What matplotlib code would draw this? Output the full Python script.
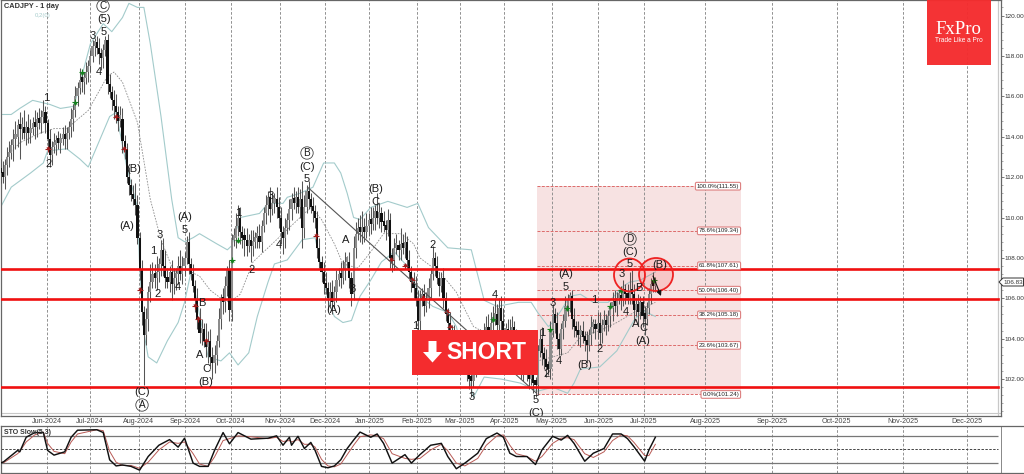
import matplotlib
matplotlib.use("Agg")
import matplotlib.pyplot as plt
from matplotlib.patches import Rectangle, Ellipse, Polygon
from matplotlib.transforms import Affine2D

# daily closes, one bar per trading day
closes = [
    112.2,112.0,112.6,113.0,113.2,113.6,113.9,114.0,114.6,114.4,
    114.5,114.2,114.5,114.2,114.4,114.7,114.5,114.9,114.7,115.0,
    115.2,114.7,113.9,113.1,113.5,113.6,113.8,113.7,113.9,114.0,
    113.9,114.2,114.5,114.9,115.3,116.0,116.4,116.8,116.7,116.9,
    117.2,117.5,118.0,118.5,118.7,118.4,118.1,117.9,118.3,118.8,
    116.6,116.2,115.8,115.5,115.2,114.8,114.9,113.8,113.4,112.0,
    111.6,111.1,110.9,110.6,109.0,107.4,105.3,104.2,105.0,106.3,
    106.8,107.2,107.0,107.3,107.7,108.4,107.6,107.0,106.8,107.3,
    106.7,107.0,107.2,107.6,107.2,107.6,108.0,108.8,107.7,107.2,
    106.6,105.9,105.0,104.3,104.5,103.9,103.6,103.9,103.1,102.8,
    103.2,103.9,105.0,105.9,105.8,106.6,107.4,105.4,108.9,109.0,
    109.6,110.0,109.3,109.0,108.9,108.6,108.9,108.6,108.8,109.0,
    109.1,108.8,109.6,110.2,110.6,111.0,110.4,110.7,110.9,110.5,
    110.0,109.3,109.0,109.5,109.9,110.4,110.9,110.7,111.0,110.5,
    110.9,109.5,110.5,111.3,110.9,110.5,110.3,110.0,108.5,107.8,
    107.3,106.7,106.5,106.0,106.3,105.8,106.3,106.9,107.2,107.0,
    107.4,107.8,107.8,107.0,106.2,108.5,109.2,109.5,109.3,109.5,
    109.3,109.6,109.9,109.7,110.0,110.3,110.0,110.2,109.8,109.6,
    109.4,109.9,108.0,107.9,108.5,108.6,108.4,108.7,108.5,108.8,
    107.9,107.3,106.8,106.5,105.9,104.9,105.9,106.2,105.6,106.0,
    106.5,107.2,108.0,107.6,107.0,106.6,107.0,106.0,105.2,104.8,
    104.4,104.2,104.0,103.7,103.5,103.2,103.0,102.7,102.4,102.0,
    101.9,102.6,103.0,103.4,103.7,103.6,104.2,104.6,104.3,104.8,
    105.0,105.2,104.7,105.5,104.9,104.3,104.5,104.2,104.0,104.6,
    104.0,103.5,102.9,102.5,102.8,103.0,102.4,102.0,102.3,101.8,
    101.7,103.4,104.0,103.3,103.0,102.6,102.5,104.4,105.2,104.8,
    104.0,103.5,104.5,104.9,105.6,105.9,106.1,105.0,104.6,104.4,
    104.2,104.4,104.1,103.9,103.7,104.2,104.6,104.7,104.5,104.8,
    104.3,104.7,104.9,104.7,105.1,105.5,105.8,105.6,106.0,106.1,
    105.9,106.4,106.2,106.0,106.3,106.2,105.4,105.7,105.3,105.8,
    105.1,105.0,105.5,106.2,106.7,106.6,106.83,
]
first_open = 112.4

# how far the high / low stick out of each body
wick_up = [
    .5,.6,.3,.5,.6,.3,.5,.8,.3,.6,
    .5,.8,.3,.6,.5,.3,.6,.3,.5,.3,
    .6,.3,.2,.5,.3,.6,.3,.5,.3,.5,
    .6,.3,.3,.5,.3,.5,.3,.6,.5,.3,
    .5,.3,.3,.3,.2,.3,.5,.3,.3,.2,
    .3,.5,.3,.5,.6,.3,.6,.5,.3,.3,
    .5,.3,.5,.8,.5,.3,.5,.3,.5,.3,
    .9,.6,.5,.8,.3,.5,.6,.8,.5,.3,
    .6,.5,.3,.5,.8,.5,.3,.3,.5,.3,
    .5,.3,.6,.5,.5,.3,.9,.5,.6,.5,
    .5,.3,.5,.3,.6,.5,.2,.5,.3,.5,
    .6,.6,.5,.3,.5,.6,.3,.5,.6,.3,
    .5,.6,.3,.3,.5,.3,.5,.5,.3,.6,
    .5,.5,.3,.5,.3,.5,.3,.6,.3,.5,
    .5,.9,.6,.3,.5,.3,.5,.3,.3,.5,
    .3,.5,.6,.3,.5,.6,.3,.5,.3,.6,
    .5,.5,.3,.5,.3,.6,.6,.5,.6,.8,
    .5,.6,.3,.6,.5,.3,.9,.5,.3,.5,
    .3,.5,.3,.5,.5,.6,.3,.8,.5,.5,
    .3,.5,.3,.5,.6,.5,.5,.3,.5,.3,
    .5,.3,.6,.3,.5,.3,.3,.5,.3,.3,
    .5,.3,.5,.3,.5,.3,.5,.6,.3,.5,
    .5,.5,.6,.6,.8,.5,.6,.5,.6,.5,
    .6,.8,.5,.5,.6,.6,.3,.5,.8,.5,
    .3,.5,.6,.3,.5,.3,.5,.6,.3,.5,
    .3,.3,.5,.6,.3,.5,.3,.5,.5,.3,
    .5,.3,.3,.3,.5,.3,.2,.3,.5,.3,
    .5,.3,.5,.3,.5,.3,.5,.3,.3,.5,
    .5,.3,.5,.3,.3,.3,.5,.6,.3,.3,
    .5,.5,.3,.5,1.0,1.1,.5,.3,.5,.3,
    .3,.5,.3,.3,.3,.6,.2,
]
wick_dn = [
    .5,.3,.6,.5,.5,.3,.8,.5,.5,1.5,
    .5,.3,.6,.5,.5,.3,.6,.5,.3,.5,
    .3,.5,.5,.6,.5,.3,.5,.3,.5,.3,
    .5,.5,.3,.5,.6,.3,.5,.3,.5,.6,
    .3,.5,.3,.3,.5,.3,.5,.6,.5,.3,
    .5,.3,.5,.6,.5,.5,.3,.6,.5,.3,
    .5,.3,.3,.5,.3,.5,.6,2.5,.5,.6,
    .5,.3,.5,.6,.5,.6,.5,.5,.3,.5,
    .8,.5,.6,.5,.3,.5,.5,.3,.5,.3,
    .3,.6,.5,.5,.6,.3,.5,.8,.6,.8,
    .5,.5,.3,.5,.6,.5,.5,.5,.5,.3,
    .5,.5,.6,.5,.8,.5,.3,.8,.5,.3,
    .5,.3,.5,.3,.5,.5,.6,.3,.5,.5,
    .5,.6,.8,.5,.3,.5,.5,.3,.5,.3,
    .5,1.0,.5,.3,.5,.3,.5,.5,.5,.3,
    .5,.5,.3,.6,.5,.6,.3,.5,.3,.5,
    .3,.5,.3,.5,.6,.3,.5,.3,.5,.6,
    .5,.3,.5,.5,.3,.6,.3,.5,.5,.3,
    .5,.3,.5,.6,.5,.3,.5,.5,.3,.5,
    .5,.3,.5,.5,.3,.9,.5,.3,.5,.3,
    .5,.5,.3,.5,.3,.5,.3,.5,.3,.5,
    .3,.5,.3,.5,.6,.3,.5,.3,.5,.5,
    .8,.3,.5,.5,.3,.5,.6,.5,.3,.5,
    .5,.3,.5,.3,.5,.6,.5,.3,.5,.3,
    .5,.5,.3,.5,.6,.3,.5,.5,.3,.5,
    .6,.5,.3,.6,.5,.5,.3,.5,.3,.5,
    .5,.3,.3,.5,.3,.5,.6,.5,.5,.3,
    .5,.6,.3,.5,.9,.3,.5,.3,.5,.5,
    .6,.5,.3,.5,.3,.5,.6,.3,.5,.3,
    .5,.3,.5,.3,.3,.5,.5,.3,.6,.3,
    .5,.8,.3,.3,.5,.3,.3,
]

# bollinger bands: bar number and price
upper_bar = [0,5,9,15,19,23,28,34,35,42,48,52,57,60,64,67,70,75,80,83,86,90,93,101,106,108,112,121,125,132,134,140,146,151,156,159,162,165,168,173,181,190,195,200,209,220,226,232,242,248,251,256,258,262,266,271,277,284,291,294,299,306]
upper_val = [115.1,115.1,115.4,115.8,115.7,115.6,115.4,115.5,115.8,118.6,119.6,119.2,119.9,120.6,120.4,120.4,118.6,115.0,110.9,109.0,108.8,109.0,109.2,108.7,108.4,108.6,110.0,110.2,110.7,110.7,111.0,111.2,111.5,112.7,112.7,112.2,111.2,110.0,109.9,110.5,110.8,110.5,110.7,109.5,108.5,108.4,105.9,105.6,105.8,105.8,105.3,104.6,104.8,105.4,106.1,106.2,105.8,105.8,106.6,106.8,106.9,107.3]
lower_bar = [0,5,14,20,22,31,37,41,45,51,54,59,64,65,67,69,73,78,83,86,89,97,103,107,111,116,120,125,128,134,141,147,150,153,156,160,164,168,173,178,184,190,196,202,209,213,221,226,234,243,251,258,265,268,271,280,288,296,300,306]
lower_val = [110.5,111.5,112.2,112.7,113.3,113.4,112.9,112.5,113.5,115.0,115.2,112.5,110.5,107.6,104.3,103.1,102.8,103.9,104.8,105.8,107.3,103.1,102.9,103.3,102.7,103.3,105.1,106.8,107.7,107.9,108.9,109.0,107.5,105.9,105.1,104.8,104.9,106.1,106.9,107.8,108.3,107.6,106.1,105.6,105.3,104.6,101.1,102.1,102.0,101.8,101.4,101.6,101.3,101.8,102.5,102.6,103.4,104.9,105.4,105.1]
mid_bar = [3,9,19,25,31,41,50,53,57,64,70,75,81,87,93,98,103,107,112,118,126,134,145,150,156,160,167,173,179,187,193,196,206,213,221,251,258,265,271,280,288,296,306]
mid_val = [113.0,113.7,114.2,114.4,114.4,115.3,117.0,117.2,116.7,114.7,110.9,108.9,107.3,107.4,107.1,106.4,106.0,105.8,106.2,107.8,108.6,109.4,110.5,109.9,108.7,107.7,107.5,108.3,109.2,109.2,108.7,108.0,107.2,106.3,104.6,102.9,103.1,103.3,104.1,104.4,104.8,105.3,105.8]

# stochastic panel
sto_bar = [0,1.5,8,9,12,16,20,22,25,30,33,36,45,48,51,54,57,61,65,69,74,79,83,86,90,93,97,100,104,107,111,117,125,129,132,135,136,139,142,145,147,150,153,156,159,
           162,165,168,173,176,179,183,189,192,196,201,206,209,213,217,223,227,232,235,238,241,246,250,253,258,262,265,268,273,277,282,286,290,293,296,301,303,306]
sto_main = [20,23,47,44,75,85,85,47,37,44,75,90,91,85,27,14,16,13,5,34,58,70,54,73,20,13,13,47,85,61,85,71,73,78,58,75,58,77,51,64,47,13,10,14,27,
            51,69,86,75,82,62,20,38,20,38,58,62,34,8,20,41,72,84,75,41,34,34,17,48,77,69,79,62,24,41,51,82,82,72,55,24,48,75]
sto_signal = [22,21,40,45,65,80,86,62,45,40,65,82,91,89,45,22,15,15,9,22,48,65,62,65,40,18,13,33,68,72,78,76,72,75,66,68,65,70,60,60,54,28,14,12,18,
              38,58,76,80,78,72,40,30,28,30,48,60,46,20,14,30,58,78,80,58,40,34,24,34,62,73,74,70,40,32,44,68,80,78,64,36,36,60]

month_labels = ["Jun-2024","Jul-2024","Aug-2024","Sep-2024","Oct-2024","Nov-2024","Dec-2024","Jan-2025","Feb-2025","Mar-2025",
                "Apr-2025","May-2025","Jun-2025","Jul-2025","Aug-2025","Sep-2025","Oct-2025","Nov-2025","Dec-2025"]
month_bar = [21.5,41.6,64.7,86.4,107.5,130.4,151.4,172.4,194.4,214.5,235.5,257.5,279.4,300.5,329.4,360.7,390.7,421.5,451.4]

price_ticks = [102,104,106,108,110,112,114,116,118,120]
support_levels = [107.43,105.98,101.62]
last_price = 106.83

fib_pct = ["100.0%","78.6%","61.8%","50.0%","38.2%","23.6%","0.0%"]
fib_price = [111.55,109.34,107.61,106.40,105.18,103.67,101.24]
fib_start_bar = 250.5
fib_end_bar = 346

buy_bar = [35,38,108,111,230,257,264.5,285,290,305.5]
buy_price = [115.7,117.2,107.9,108.9,105.0,104.5,105.5,105.6,106.4,106.9]
sell_bar = [22,54,57.5,65,91,92.5,96,147.5,182.5,189,192.5,197.5,208.5,210]
sell_price = [113.4,115.0,113.4,106.4,105.6,105.0,103.9,109.1,107.9,107.6,106.9,106.0,105.3,104.6]

trend_bar = [143.5,250.5]
trend_price = [111.5,101.3]

# wave labels: text, x and y in image pixels
wave_labels = [
    ("(5)",104,19),("5",104,32),("3",93,36),("4",99,72),("1",46,98),("2",49,164),("(B)",134,169),
    ("(C)",307,167),("5",307,179),("3",271,196),("(A)",127,226),("(A)",185,217),("5",185,230),
    ("3",160,235),("1",153,251),("2",158,294),("4",178,287),("B",202,303),("A",200,355),("C",206,369),
    ("(B)",206,382),("(C)",142,392),("1",238,213),("2",252,270),("4",279,245),("(A)",334,310),
    ("A",346,240),("B",352,289),("(B)",376,189),("C",375,202),("2",433,245),("1",415,326),("4",495,295),
    ("3",472,397),("5",536,400),("(C)",536,413),("1",542,333),("2",547,374),("3",553,303),("(A)",566,274),
    ("5",566,287),("4",559,361),("(B)",585,365),("2",600,349),("1",594,300),("3",622,274),("(C)",630,252),
    ("5",630,264),("B",639,288),("4",626,312),("A",636,324),("C",643,328),("(A)",643,341),("(B)",660,265),
]
circled_labels = [("C",103,6),("B",307,153),("A",142,405),("D",630,239)]

W, H = 1024, 474
PX_PER_BAR = 2.14
INK = "#1c1c1c"
RED = "#f42c2e"

plt.rcParams["font.family"] = ["Liberation Sans", "DejaVu Sans"]
fig = plt.figure(figsize=(W / 100, H / 100), dpi=100, facecolor="white")

main_bottom = 415.5
ax = fig.add_axes([0.0005, (H - main_bottom) / H, 1000 / W, main_bottom / H])
sto = fig.add_axes([0.0005, 1.5 / H, 1, (473 - 425.5 - 0.5) / H])

# image pixels, y going down
px = Affine2D().scale(1, -1).translate(0, H)
line_end = 997 / 1000

for a in (ax, sto):
    for m in month_bar:
        a.axvline(m, color="#8a8a8a", lw=0.65, ls=(0, (3, 2)), zorder=1)
    for s in a.spines.values():
        s.set_color("#666666")
        s.set_linewidth(0.9)
ax.axvline(997 / PX_PER_BAR, color="#c8c8c8", lw=0.9, zorder=1)
ax.plot([0, 1000 / PX_PER_BAR], [100.3, 100.3], color="#c8c8c8", lw=0.8, zorder=1)

# fib box
ax.add_patch(Rectangle((fib_start_bar, fib_price[-1]), fib_end_bar - fib_start_bar,
                       fib_price[0] - fib_price[-1], fc="#f7e2e2", ec="none", zorder=0.5))
for pct, val in zip(fib_pct, fib_price):
    ax.plot([fib_start_bar, fib_end_bar - 12], [val, val], color="#dd6b6b", lw=0.7, ls=(0, (3, 1.5)), zorder=2)
    ax.text(fib_end_bar - 0.8, val, f"{pct}({val:.2f})", ha="right", va="center", fontsize=4.4, color="#222222", zorder=6,
            bbox=dict(boxstyle="round,pad=0.22", fc="white", ec="#dd8080", lw=0.8))

# bands
ax.plot(upper_bar, upper_val, color="#a3cbcb", lw=0.8, zorder=2)
ax.plot(lower_bar, lower_val, color="#a3cbcb", lw=0.8, zorder=2)
ax.plot(mid_bar, mid_val, color="#8c8c8c", lw=0.6, ls=(0, (2, 1.5)), zorder=2)

# candles
opens = [first_open] + closes[:-1]
for i, (o, c) in enumerate(zip(opens, closes)):
    hi = max(o, c) + wick_up[i]
    lo = min(o, c) - wick_dn[i]
    down = c < o
    col = "#101010" if down else "#8c8c8c"
    ax.vlines(i, lo, hi, color="#555555", lw=0.75, zorder=3)
    ax.bar(i, max(abs(c - o), 0.25), bottom=min(o, c), width=1.0, color=col, lw=0, zorder=3.2)

# entry marks
ax.scatter(buy_bar, buy_price, marker="^", s=9, color="#14801f", lw=0, zorder=4)
ax.scatter(buy_bar, buy_price, marker="+", s=14, color="#14801f", lw=0.8, zorder=4)
ax.scatter(sell_bar, sell_price, marker="v", s=9, color="#a01c1c", lw=0, zorder=4)
ax.scatter(sell_bar, sell_price, marker="+", s=14, color="#a01c1c", lw=0.8, zorder=4)

ax.plot(trend_bar, trend_price, color="#555555", lw=0.8, zorder=4)

for lv in support_levels:
    ax.axhline(lv, xmax=line_end, color="#f01010", lw=1.9, zorder=5)

# red circles around the last swing
ax.add_patch(Ellipse((629.5, 275), 31, 33, transform=px, fc=(1, 0, 0, 0.04), ec="#ee2222", lw=1.3, zorder=5.5))
ax.add_patch(Ellipse((656, 274.5), 34, 33, transform=px, fc=(1, 0, 0, 0.12), ec="#ee2222", lw=1.3, zorder=5.5))
ax.annotate("", xy=(661, 296), xytext=(653, 276), xycoords=px, textcoords=px, zorder=6,
            arrowprops=dict(arrowstyle="-|>", color="#111111", lw=0.8, mutation_scale=7, shrinkA=0, shrinkB=0))

for txt, x, y in wave_labels:
    ax.text(x, y, txt, transform=px, ha="center", va="center", fontsize=8, color=INK, zorder=7, clip_on=True)
for txt, x, y in circled_labels:
    ax.text(x, y, txt, transform=px, ha="center", va="center", fontsize=7.2, color=INK, zorder=7, clip_on=True,
            bbox=dict(boxstyle="circle,pad=0.12", fc="none", ec="#444444", lw=0.6))

# SHORT banner
ax.add_patch(Rectangle((412, 330), 126, 45, transform=px, fc="#f42c2e", ec="none", zorder=8))
ax.add_patch(Polygon([(428.5, 341), (436.5, 341), (436.5, 352), (442, 352), (432.5, 362.5), (423, 352), (428.5, 352)],
                     transform=px, fc="white", ec="none", zorder=9))
ax.text(486, 352.5, "SHORT", transform=px, ha="center", va="center", fontsize=16.5, weight="bold", color="white", zorder=9)

# logo
ax.add_patch(Rectangle((927, 0), 64, 64.5, transform=px, fc=RED, ec="none", alpha=0.97, zorder=8))
ax.text(958.5, 29, "FxPro", transform=px, ha="center", va="center", fontsize=13.5, family="Liberation Serif", color="white", zorder=9)
ax.text(958.5, 40.5, "Trade Like a Pro", transform=px, ha="center", va="center", fontsize=4.7, color="white", zorder=9)

ax.text(4, 7, "CADJPY - 1 day", transform=px, ha="left", va="center", fontsize=5.3, weight="bold", color="#333333", zorder=9)
ax.text(43, 16, "0,2(0)", transform=px, ha="center", va="center", fontsize=4.3, color="#a6cccc", zorder=9)

ax.set_xlim(0, 1000 / PX_PER_BAR)
ax.set_ylim(120 - (main_bottom - 15.5) / 20.2, 120 + 15.5 / 20.2)
ax.set_xticks(month_bar)
ax.set_xticklabels(month_labels, fontsize=5.1, color="#444444")
ax.tick_params(axis="x", length=0, pad=2)
ax.yaxis.tick_right()
ax.set_yticks(price_ticks)
ax.set_yticks([100.4 + 0.4 * k for k in range(51)], minor=True)
ax.set_yticklabels([f"{p:.2f}" for p in price_ticks], fontsize=4.6, color="#333333")
ax.tick_params(axis="y", which="major", length=2.2, width=0.6, color="#666666", pad=0.6)
ax.tick_params(axis="y", which="minor", length=1.5, width=0.5, color="#888888")


def tag(text, y, x0, x1, size, z=10):
    ax.add_patch(Polygon([(x0 + 4, y - 4), (x1, y - 4), (x1, y + 4), (x0 + 4, y + 4), (x0, y)], transform=px,
                         fc="white", ec="#333333", lw=0.7, clip_on=False, zorder=z))
    ax.text((x0 + x1) / 2 + 2, y, text, transform=px, ha="center", va="center", fontsize=size,
            color="#333333", clip_on=False, zorder=z)


tag(f"{last_price:.2f}", 282, 999, 1023.5, 4.6)

# stochastic
sto.hlines([77.5, 20], 0, 997 / PX_PER_BAR, color="#777777", lw=0.9, zorder=1)
sto.hlines([50], 0, 997 / PX_PER_BAR, color="#444444", lw=0.7, ls=(0, (2.5, 1.5)), zorder=1)
sto.axvline(1000 / PX_PER_BAR, color="#888888", lw=0.7)
sto.plot(sto_bar, sto_signal, color="#b85a55", lw=0.7, zorder=3)
sto.plot(sto_bar, sto_main, color="#111111", lw=1.05, zorder=4)
sto.text(4, 432, "STO Slow(5,3)", transform=px, ha="left", va="center", fontsize=5, weight="bold", color="#333333", zorder=5)
sto.set_xlim(0, W / PX_PER_BAR)
sto.set_ylim(0, 100)
sto.set_xticks([])
sto.set_yticks([])

tag("60.0", 445, 999, 1015, 5, z=9)
tag("77.5", 436, 999, 1015, 5)
tag("50.0", 449, 999, 1015, 5)
tag("20.0", 463, 999, 1015, 5)

fig.savefig("out.png", dpi=100)
